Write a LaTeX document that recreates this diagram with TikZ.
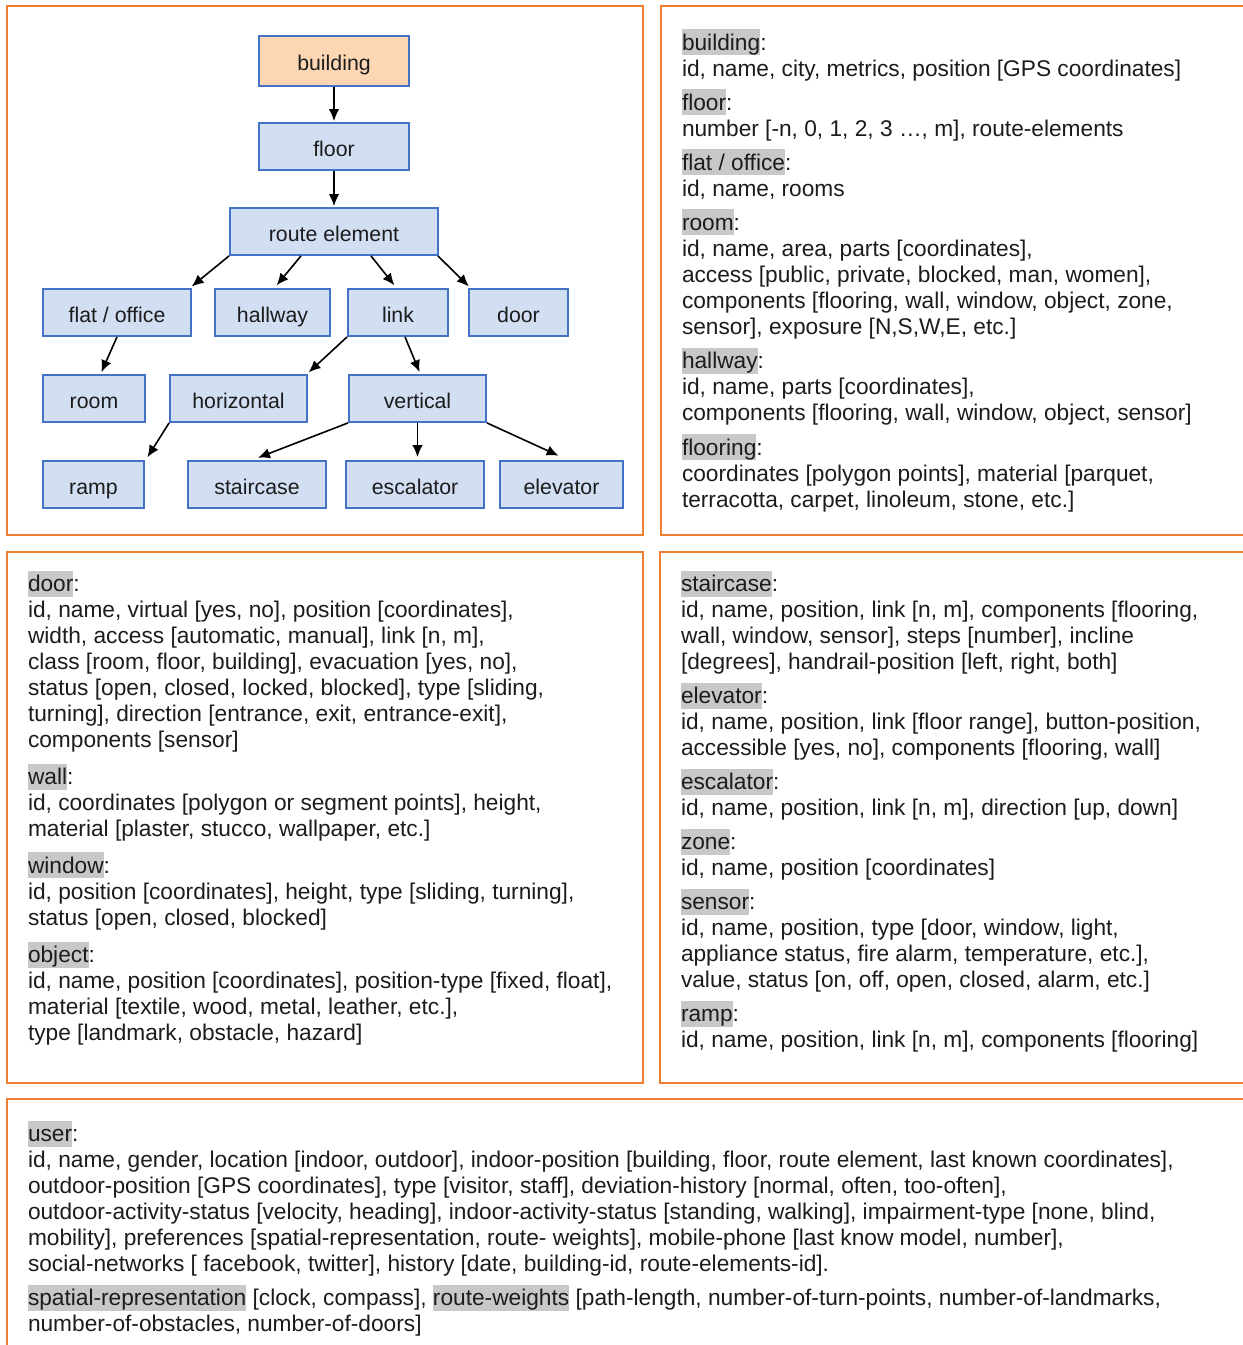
\documentclass[tikz,border=0pt]{standalone}
\usepackage{fontspec}
\setmainfont{Liberation Sans}
\usetikzlibrary{arrows.meta}
\definecolor{frameorange}{HTML}{ED7D31}
\definecolor{boxblue}{HTML}{D2DEF2}
\definecolor{boxedge}{HTML}{4472C4}
\definecolor{boxpeach}{HTML}{FDD7B4}
\definecolor{hlgray}{HTML}{C8C8C8}
\definecolor{inkc}{HTML}{1C1C1C}
\newcommand{\bodyfont}{\fontsize{22.7}{26}\selectfont}
\newcommand{\treefont}{\fontsize{21.3}{25}\selectfont}
\newcommand{\hlw}[1]{{\setlength{\fboxsep}{0pt}\colorbox{hlgray}{\rule[-0.22em]{0pt}{1.125em}#1}}}
\begin{document}
\begin{tikzpicture}[x=1pt,y=-1pt,
  panel/.style={draw=frameorange,line width=2pt},
  tbox/.style={draw=boxedge,fill=boxblue,line width=1.8pt,rectangle,inner sep=0pt,
     minimum height=47pt,font=\treefont,text=inkc,text height=19.4pt,text depth=0pt},
  arr/.style={-{Latex[length=12pt,width=10.5pt]},line width=1.6pt,black,shorten >=1pt},
  txt/.style={anchor=base west,inner sep=0pt,outer sep=0pt,font=\bodyfont,text=inkc}]
\useasboundingbox (0,0) rectangle (1243,1345);
\fill[white] (0,0) rectangle (1243,1345);
% panels
\draw[panel] (7,6) rectangle (643,535);
\draw[panel] (661,6) rectangle (1262,535);
\draw[panel] (7,552) rectangle (643,1083);
\draw[panel] (660,552) rectangle (1262,1083);
\draw[panel] (7,1099) rectangle (1262,1365);
% tree
\node[tbox,fill=boxpeach,minimum width=150pt,minimum height=50pt] (building) at (334,61) {building};
\node[tbox,minimum width=150pt] (floor) at (334,146.5) {floor};
\node[tbox,minimum width=208pt] (route) at (334,231.5) {route element};
\node[tbox,minimum width=148pt] (flat) at (117,312.5) {flat / office};
\node[tbox,minimum width=115pt] (hallway) at (272.5,312.5) {hallway};
\node[tbox,minimum width=100pt] (link) at (398,312.5) {link};
\node[tbox,minimum width=99pt] (door) at (518.5,312.5) {door};
\node[tbox,minimum width=102pt] (room) at (94,398.5) {room};
\node[tbox,minimum width=137pt] (horizontal) at (238.5,398.5) {horizontal};
\node[tbox,minimum width=137pt] (vertical) at (417.5,398.5) {vertical};
\node[tbox,minimum width=101pt] (ramp) at (93.5,484.5) {ramp};
\node[tbox,minimum width=138pt] (staircase) at (257,484.5) {staircase};
\node[tbox,minimum width=138pt] (escalator) at (415,484.5) {escalator};
\node[tbox,minimum width=123pt] (elevator) at (561.5,484.5) {elevator};
\draw[arr] (building.south) -- (floor.north);
\draw[arr] (floor.south) -- (route.north);
\draw[arr] (route.south west) -- ([xshift=-1pt,yshift=1pt]flat.north east);
\draw[arr] ([xshift=-33pt]route.south) -- ([xshift=3.5pt,yshift=2pt]hallway.north);
\draw[arr] ([xshift=37pt]route.south) -- ([xshift=-3pt,yshift=2pt]link.north);
\draw[arr] ([xshift=-1pt]route.south east) -- ([xshift=1.5pt,yshift=1pt]door.north west);
\draw[arr] (flat.south) -- ([xshift=7pt,yshift=1pt]room.north);
\draw[arr] (link.south west) -- ([yshift=1pt]horizontal.north east);
\draw[arr] ([xshift=7pt]link.south) -- ([xshift=2.5pt,yshift=1pt]vertical.north);
\draw[arr] (horizontal.south west) -- ([xshift=2pt,yshift=2pt]ramp.north east);
\draw[arr] (vertical.south west) -- ([yshift=2pt]staircase.north);
\draw[arr] (vertical.south) -- ([yshift=2pt]vertical.south |- escalator.north);
\draw[arr] (vertical.south east) -- ([xshift=-2pt,yshift=4pt]elevator.north);
% panel 2 text
\node[txt] (b1) at (682,50) {\hlw{building}:};
\node[txt] (b2) at (682,76) {id, name, city, metrics, position [GPS coordinates]};
\node[txt] (f1) at (682,110) {\hlw{floor}:};
\node[txt] (f2) at (682,136) {number [-n, 0, 1, 2, 3 …, m], route-elements};
\node[txt] (o1) at (682,170) {\hlw{flat / office}:};
\node[txt] (o2) at (682,196) {id, name, rooms};
\node[txt] (r1) at (682,230) {\hlw{room}:};
\node[txt] (r2) at (682,256) {id, name, area, parts [coordinates],};
\node[txt] (r3) at (682,282) {access [public, private, blocked, man, women],};
\node[txt] (r4) at (682,308) {components [flooring, wall, window, object, zone,};
\node[txt] (r5) at (682,334) {sensor], exposure [N,S,W,E, etc.]};
\node[txt] (h1) at (682,368.5) {\hlw{hallway}:};
\node[txt] (h2) at (682,394.5) {id, name, parts [coordinates],};
\node[txt] (h3) at (682,420.5) {components [flooring, wall, window, object, sensor]};
\node[txt] (g1) at (682,455) {\hlw{flooring}:};
\node[txt] (g2) at (682,481) {coordinates [polygon points], material [parquet,};
\node[txt] (g3) at (682,507) {terracotta, carpet, linoleum, stone, etc.]};
% panel 3 text
\node[txt] (d1) at (28,591.5) {\hlw{door}:};
\node[txt] (d2) at (28,617.5) {id, name, virtual [yes, no], position [coordinates],};
\node[txt] (d3) at (28,643.5) {width, access [automatic, manual], link [n, m],};
\node[txt] (d4) at (28,669.5) {class [room, floor, building], evacuation [yes, no],};
\node[txt] (d5) at (28,695.5) {status [open, closed, locked, blocked], type [sliding,};
\node[txt] (d6) at (28,721.5) {turning], direction [entrance, exit, entrance-exit],};
\node[txt] (d7) at (28,747.5) {components [sensor]};
\node[txt] (w1) at (28,784.5) {\hlw{wall}:};
\node[txt] (w2) at (28,810.5) {id, coordinates [polygon or segment points], height,};
\node[txt] (w3) at (28,836.5) {material [plaster, stucco, wallpaper, etc.]};
\node[txt] (n1) at (28,873) {\hlw{window}:};
\node[txt] (n2) at (28,899) {id, position [coordinates], height, type [sliding, turning],};
\node[txt] (n3) at (28,925) {status [open, closed, blocked]};
\node[txt] (j1) at (28,962.5) {\hlw{object}:};
\node[txt] (j2) at (28,988.5) {id, name, position [coordinates], position-type [fixed, float],};
\node[txt] (j3) at (28,1014.5) {material [textile, wood, metal, leather, etc.],};
\node[txt] (j4) at (28,1040.5) {type [landmark, obstacle, hazard]};
% panel 4 text
\node[txt] (s1) at (681,591.5) {\hlw{staircase}:};
\node[txt] (s2) at (681,617.5) {id, name, position, link [n, m], components [flooring,};
\node[txt] (s3) at (681,643.5) {wall, window, sensor], steps [number], incline};
\node[txt] (s4) at (681,669.5) {[degrees], handrail-position [left, right, both]};
\node[txt] (e1) at (681,703.5) {\hlw{elevator}:};
\node[txt] (e2) at (681,729.5) {id, name, position, link [floor range], button-position,};
\node[txt] (e3) at (681,755.5) {accessible [yes, no], components [flooring, wall]};
\node[txt] (c1) at (681,789.5) {\hlw{escalator}:};
\node[txt] (c2) at (681,815.5) {id, name, position, link [n, m], direction [up, down]};
\node[txt] (z1) at (681,849.5) {\hlw{zone}:};
\node[txt] (z2) at (681,875.5) {id, name, position [coordinates]};
\node[txt] (q1) at (681,909.5) {\hlw{sensor}:};
\node[txt] (q2) at (681,935.5) {id, name, position, type [door, window, light,};
\node[txt] (q3) at (681,961.5) {appliance status, fire alarm, temperature, etc.],};
\node[txt] (q4) at (681,987.5) {value, status [on, off, open, closed, alarm, etc.]};
\node[txt] (m1) at (681,1021.5) {\hlw{ramp}:};
\node[txt] (m2) at (681,1047.5) {id, name, position, link [n, m], components [flooring]};
% panel 5 text
\node[txt] (u1) at (28,1141.5) {\hlw{user}:};
\node[txt] (u2) at (28,1167.5) {id, name, gender, location [indoor, outdoor], indoor-position [building, floor, route element, last known coordinates],};
\node[txt] (u3) at (28,1193.5) {outdoor-position [GPS coordinates], type [visitor, staff], deviation-history [normal, often, too-often],};
\node[txt] (u4) at (28,1219.5) {outdoor-activity-status [velocity, heading], indoor-activity-status [standing, walking], impairment-type [none, blind,};
\node[txt] (u5) at (28,1245.5) {mobility], preferences [spatial-representation, route- weights], mobile-phone [last know model, number],};
\node[txt] (u6) at (28,1271.5) {social-networks [ facebook, twitter], history [date, building-id, route-elements-id].};
\node[txt] (u7) at (28,1305.5) {\hlw{spatial-representation} [clock, compass], \hlw{route-weights} [path-length, number-of-turn-points, number-of-landmarks,};
\node[txt] (u8) at (28,1331.5) {number-of-obstacles, number-of-doors]};
\end{tikzpicture}
\end{document}
